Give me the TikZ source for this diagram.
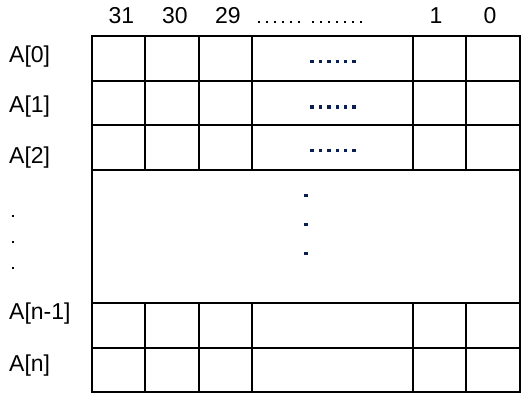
\documentclass[tikz,border=0pt]{standalone}
\usepackage{fontspec}
\setmainfont{Liberation Sans}
\definecolor{dotblue}{RGB}{10,30,80}
\begin{document}
\begin{tikzpicture}[x=1pt,y=-1pt,
  gridline/.style={line width=1.1pt,black},
  lbl/.style={inner sep=0pt,font=\fontsize{23}{23}\selectfont},
  rowlbl/.style={lbl,anchor=west},
  bigdot/.style={fill=dotblue},
  smalldot/.style={fill=black}]
\useasboundingbox (0,0) rectangle (528,400);
% grid
\draw[gridline] (92,36) rectangle (520,392);
\foreach \y in {81,125,170,303,348} \draw[gridline] (92,\y) -- (520,\y);
\foreach \x in {145,199,252,413,466} {
  \draw[gridline] (\x,36) -- (\x,170);
  \draw[gridline] (\x,303) -- (\x,392);
}
% header
\node[lbl] (h31) at (121.5,16) {31};
\node[lbl] (h30) at (175,16) {30};
\node[lbl] (h29) at (228,16) {29};
\node[lbl] (h1) at (436,16) {1};
\node[lbl] (h0) at (490,16) {0};
\foreach \i in {0,...,5} \fill[smalldot] ({259+8*\i-0.9},21.1) rectangle ++(1.8,1.8);
\foreach \i in {0,...,6} \fill[smalldot] ({313+8*\i-0.9},21.1) rectangle ++(1.8,1.8);
% row labels
\node[rowlbl] (a0) at (9,57) {A[0]};
\node[rowlbl] (a1) at (9,107) {A[1]};
\node[rowlbl] (a2) at (9,158) {A[2]};
\node[rowlbl] (an1) at (9,314) {A[n-1]};
\node[rowlbl] (an) at (9,366) {A[n]};
\foreach \y in {215.7,241.7,267.7} \fill[smalldot] (12.2,\y-0.9) rectangle ++(1.8,1.8);
% row dots
\foreach \y in {61.7,107,150.5}
  \foreach \i in {0,...,5} \fill[bigdot] ({312+8.4*\i-1.7},\y-1.7) rectangle ++(3.4,3.4);
% vertical dots
\foreach \y in {195.7,224.3,253.3} \fill[bigdot] (306-1.7,\y-1.7) rectangle ++(3.4,3.4);
\end{tikzpicture}
\end{document}
